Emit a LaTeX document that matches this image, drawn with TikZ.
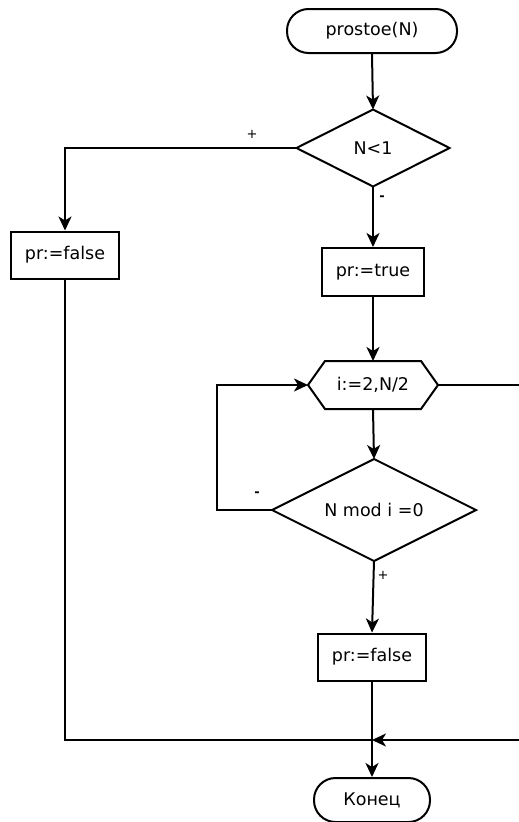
\documentclass[tikz,border=0pt]{standalone}
\usepackage{fontspec}
\setmainfont{DejaVu Sans}
\usetikzlibrary{arrows.meta}
\begin{document}
\begin{tikzpicture}[x=1pt,y=-1pt,
  line width=2pt,
  every node/.style={font=\fontsize{17.5}{20}\selectfont},
  arr/.style={-{Stealth[length=14pt,width=13pt,inset=4pt]}},
  term/.style={draw,rounded corners=21.5pt,minimum height=44pt,inner sep=0pt},
  procbox/.style={draw,minimum height=47pt,inner sep=0pt},
  shapebox/.style={inner sep=0pt},
  lbl/.style={font=\fontsize{13}{15}\selectfont,inner sep=0pt}]
\useasboundingbox (0,0) rectangle (519,822);
\node[term,minimum width=170pt] (start) at (372,31) {prostoe(N)};
\node[shapebox,minimum width=151pt,minimum height=75pt] (d1) at (373,148) {N<1};
\draw (d1.north) -- (d1.east) -- (d1.south) -- (d1.west) -- cycle;
\node[procbox,minimum width=108pt] (f1) at (65,255) {pr:=false};
\node[procbox,minimum width=102pt,minimum height=48pt] (t1) at (373,272) {pr:=true};
\node[shapebox,minimum width=128pt,minimum height=46pt] (hex) at (373,385) {i:=2,N/2};
\draw (hex.west) -- ([xshift=17pt]hex.north west) -- ([xshift=-17pt]hex.north east) -- (hex.east) -- ([xshift=-17pt]hex.south east) -- ([xshift=17pt]hex.south west) -- cycle;
\node[shapebox,minimum width=202pt,minimum height=100pt] (d2) at (374,510) {N mod i =0};
\draw (d2.north) -- (d2.east) -- (d2.south) -- (d2.west) -- cycle;
\node[procbox,minimum width=108pt] (f2) at (372,657) {pr:=false};
\node[term,minimum width=116pt] (end) at (372,800) {Конец};
\coordinate (hr) at (519,385);
\coordinate (j) at (372,740);
\coordinate (rr) at (519,740);
\draw[arr] (start.south) -- (d1.north);
\draw[arr] (d1.west) -| (f1.north);
\draw[arr] (d1.south) -- (t1.north);
\draw[arr] (t1.south) -- (hex.north);
\draw (hex.east) -- (hr);
\draw[arr] (hex.south) -- (d2.north);
\draw[arr] (d2.west) -- ++(-55,0) |- (hex.west);
\draw[arr] (d2.south) -- (f2.north);
\draw[arr] (f2.south) -- (end.north);
\draw (f1.south) |- (j);
\draw[arr] (rr) -- (j);
\node[lbl] (l1) at (252,134) {+};
\node[lbl] (l2) at (382,198) {\textbf{-}};
\node[lbl] (l3) at (257,494) {\textbf{-}};
\node[lbl] (l4) at (383,575) {+};
\end{tikzpicture}
\end{document}
